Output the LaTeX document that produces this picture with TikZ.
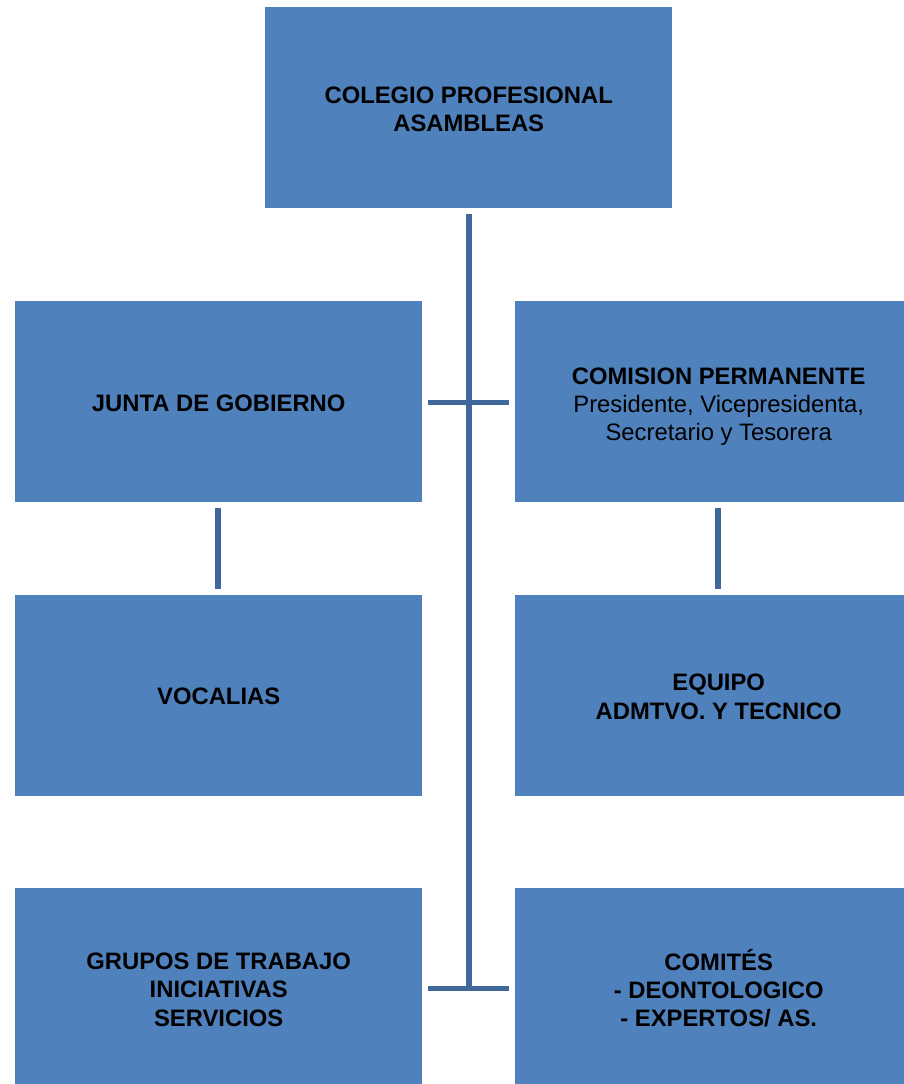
\documentclass[tikz,border=0pt]{standalone}
\usepackage{fontspec}
\setmainfont{Liberation Sans}
\definecolor{boxblue}{HTML}{4F81BD}
\definecolor{linkblue}{HTML}{41689B}
\begin{document}
\begin{tikzpicture}[x=1pt,y=-1pt,
  orgbox/.style={rectangle, fill=boxblue, draw=none, inner sep=0pt, anchor=north west,
    minimum width=407pt, minimum height=201pt},
  boxtext/.style={align=center, inner sep=0pt, font=\fontsize{23.8}{28.2}\selectfont},
  conn/.style={draw=linkblue, line width=5.5pt}]
\fill[white] (0,0) rectangle (904,1084);
\clip (0,0) rectangle (904,1084);
\node[orgbox, label={[boxtext,yshift=-1.5pt]center:{\textbf{COLEGIO PROFESIONAL}\\\textbf{ASAMBLEAS}}}] (top) at (265,7) {};
\node[orgbox, label={[boxtext,yshift=-2pt]center:{\textbf{JUNTA DE GOBIERNO}}}] (jg) at (15,301) {};
\node[orgbox, label={[boxtext,yshift=-5pt]center:{\textbf{COMISION PERMANENTE}\\Presidente, Vicepresidenta,\\Secretario y Tesorera}}] (cp) at (515,301) {};
\node[orgbox, label={[boxtext,yshift=-1pt]center:{\textbf{VOCALIAS}}}] (voc) at (15,595) {};
\node[orgbox, label={[boxtext,yshift=-1pt]center:{\textbf{EQUIPO}\\\textbf{ADMTVO. Y TECNICO}}}] (eq) at (515,595) {};
\node[orgbox, label={[boxtext,yshift=-1pt]center:{\textbf{GRUPOS DE TRABAJO}\\\textbf{INICIATIVAS}\\\textbf{SERVICIOS}}}] (gt) at (15,888) {};
\node[orgbox, label={[boxtext,yshift=0.5pt]center:{\textbf{COMITÉS}\\\textbf{- DEONTOLOGICO}\\\textbf{- EXPERTOS/ AS.}}}] (com) at (515,888) {};
% trunk
\coordinate (tb) at ([xshift=0.5pt]top.south |- gt.east);
\draw[conn, shorten <=6pt] ([xshift=0.5pt]top.south) -- ([yshift=2.75pt]tb);
% upper bar
\draw[conn, shorten <=6pt, shorten >=6pt] ([yshift=-1pt]jg.east) -- ([yshift=-1pt]cp.west);
% lower bar
\draw[conn, shorten <=6pt, shorten >=6pt] (gt.east) -- (com.west);
% side stubs
\draw[conn, shorten <=6pt, shorten >=6pt] ([xshift=-0.5pt]jg.south) -- ([xshift=-0.5pt]voc.north);
\draw[conn, shorten <=6pt, shorten >=6pt] ([xshift=-0.5pt]cp.south) -- ([xshift=-0.5pt]eq.north);
\end{tikzpicture}
\end{document}
